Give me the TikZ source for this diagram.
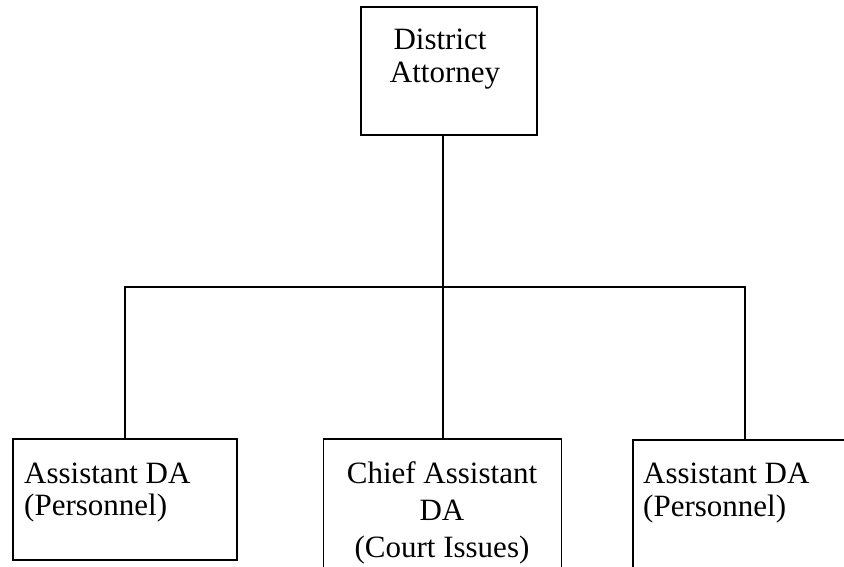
\documentclass[tikz,border=0pt]{standalone}
\usepackage{fontspec}
\setmainfont{Liberation Serif}
\begin{document}
\begin{tikzpicture}[x=1pt,y=-1pt,
  box/.style={draw=black,line width=1.6pt,inner sep=0pt},
  conn/.style={draw=black,line width=2.2pt},
  lbl/.style={inner sep=0pt,font=\fontsize{31}{34}\selectfont}]
\useasboundingbox (0,0) rectangle (844,567);
\clip (0,0) rectangle (844,567);
\fill[white] (0,0) rectangle (844,567);
% boxes
\node[box,minimum width=176pt,minimum height=128pt] (da) at (449,71) {};
\node[box,minimum width=224pt,minimum height=121pt] (lft) at (125,499.5) {};
\node[box,minimum width=238pt,minimum height=150pt] (mid) at (442.5,514) {};
\node[box,minimum width=224pt,minimum height=150pt] (rgt) at (745,515) {};
% texts
\node[lbl,anchor=base] (t1) at (440,50) {District};
\node[lbl,anchor=base] (t2) at (445,83) {Attorney};
\node[lbl,anchor=base west] (l1) at (24,483) {Assistant DA};
\node[lbl,anchor=base west] (l2) at (24,515) {(Personnel)};
\node[lbl,anchor=base] (m1) at (442,483) {Chief Assistant};
\node[lbl,anchor=base] (m2) at (442,520) {DA};
\node[lbl,anchor=base] (m3) at (442,557) {(Court Issues)};
\node[lbl,anchor=base west] (r1) at (643,483) {Assistant DA};
\node[lbl,anchor=base west] (r2) at (643,516) {(Personnel)};
% connectors
\coordinate (bar) at (443,287);
\draw[conn] (bar |- da.south) -- (bar);
\draw[conn] (lft.north) |- (bar) -| (rgt.north);
\draw[conn] (bar) -- (bar |- mid.north);
\end{tikzpicture}
\end{document}
